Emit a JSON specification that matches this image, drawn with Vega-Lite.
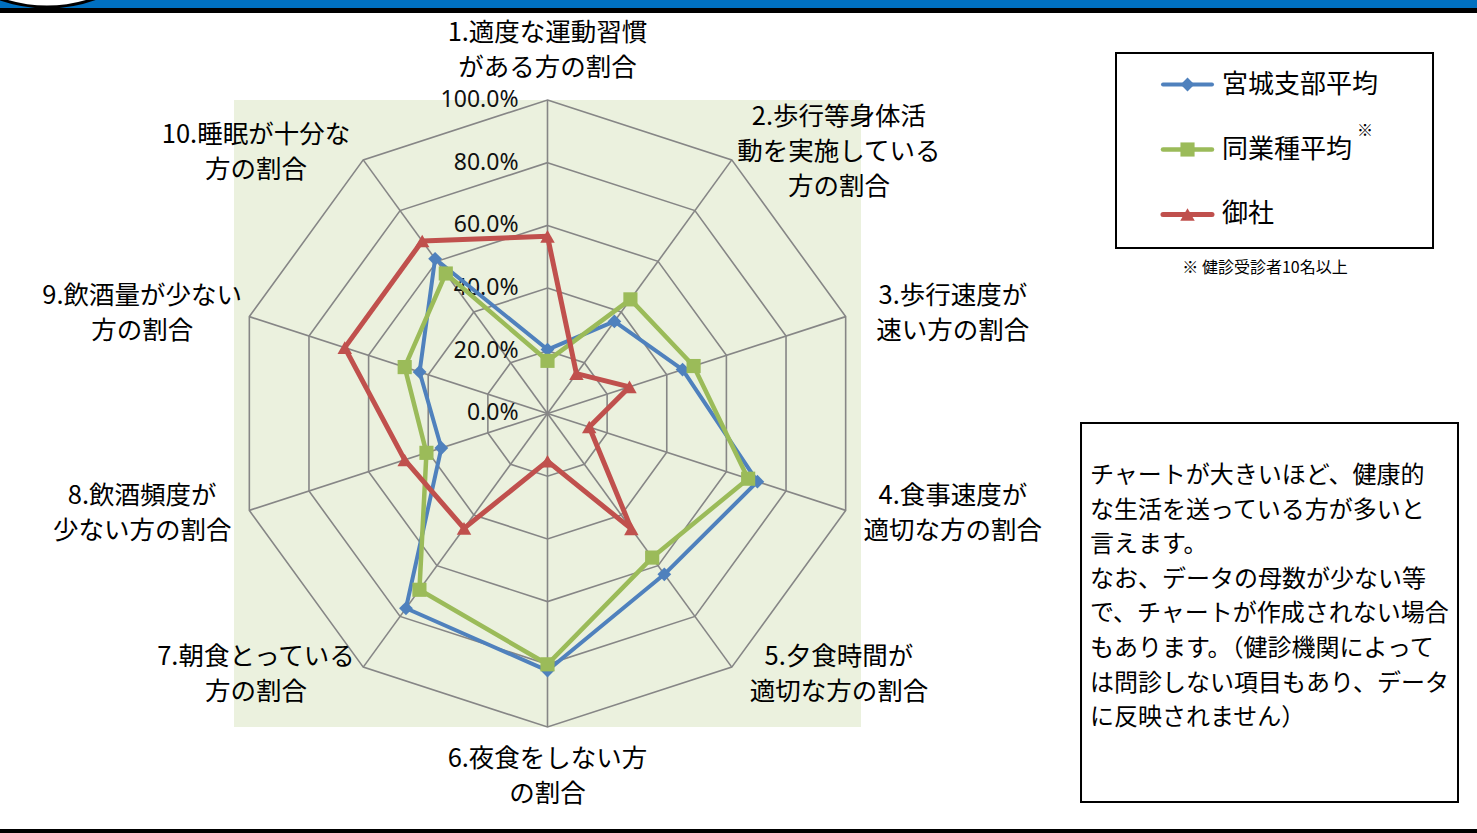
{
  "$schema": "https://vega.github.io/schema/vega-lite/v6.json",
  "width": 1477,
  "height": 833,
  "autosize": {"type": "none"},
  "padding": 0,
  "background": "white",
  "config": {"view": {"stroke": null}, "font": "Noto Sans CJK JP"},
  "datasets": {
    "vals": [
      {"axis": 1, "series": "宮城支部平均", "value": 20.4},
      {"axis": 2, "series": "宮城支部平均", "value": 36.3},
      {"axis": 3, "series": "宮城支部平均", "value": 45.3},
      {"axis": 4, "series": "宮城支部平均", "value": 70.4},
      {"axis": 5, "series": "宮城支部平均", "value": 63.4},
      {"axis": 6, "series": "宮城支部平均", "value": 82.0},
      {"axis": 7, "series": "宮城支部平均", "value": 76.8},
      {"axis": 8, "series": "宮城支部平均", "value": 35.6},
      {"axis": 9, "series": "宮城支部平均", "value": 42.9},
      {"axis": 10, "series": "宮城支部平均", "value": 61.0},
      {"axis": 1, "series": "同業種平均", "value": 16.8},
      {"axis": 2, "series": "同業種平均", "value": 45.0},
      {"axis": 3, "series": "同業種平均", "value": 49.0},
      {"axis": 4, "series": "同業種平均", "value": 67.3},
      {"axis": 5, "series": "同業種平均", "value": 56.8},
      {"axis": 6, "series": "同業種平均", "value": 80.0},
      {"axis": 7, "series": "同業種平均", "value": 69.5},
      {"axis": 8, "series": "同業種平均", "value": 40.6},
      {"axis": 9, "series": "同業種平均", "value": 47.9},
      {"axis": 10, "series": "同業種平均", "value": 55.2},
      {"axis": 1, "series": "御社", "value": 56.5},
      {"axis": 2, "series": "御社", "value": 15.7},
      {"axis": 3, "series": "御社", "value": 27.5},
      {"axis": 4, "series": "御社", "value": 14.0},
      {"axis": 5, "series": "御社", "value": 45.5},
      {"axis": 6, "series": "御社", "value": 15.2},
      {"axis": 7, "series": "御社", "value": 45.3},
      {"axis": 8, "series": "御社", "value": 47.9},
      {"axis": 9, "series": "御社", "value": 68.0},
      {"axis": 10, "series": "御社", "value": 68.0}
    ],
    "cats": [
      {"axis": 1, "label": "1.適度な運動習慣\nがある方の割合"},
      {"axis": 2, "label": "2.歩行等身体活\n動を実施している\n方の割合"},
      {"axis": 3, "label": "3.歩行速度が\n速い方の割合"},
      {"axis": 4, "label": "4.食事速度が\n適切な方の割合"},
      {"axis": 5, "label": "5.夕食時間が\n適切な方の割合"},
      {"axis": 6, "label": "6.夜食をしない方\nの割合"},
      {"axis": 7, "label": "7.朝食とっている\n方の割合"},
      {"axis": 8, "label": "8.飲酒頻度が\n少ない方の割合"},
      {"axis": 9, "label": "9.飲酒量が少ない\n方の割合"},
      {"axis": 10, "label": "10.睡眠が十分な\n方の割合"}
    ],
    "rings": [
      {"level": 0.2, "k": [0, 1, 2, 3, 4, 5, 6, 7, 8, 9]},
      {"level": 0.4, "k": [0, 1, 2, 3, 4, 5, 6, 7, 8, 9]},
      {"level": 0.6, "k": [0, 1, 2, 3, 4, 5, 6, 7, 8, 9]},
      {"level": 0.8, "k": [0, 1, 2, 3, 4, 5, 6, 7, 8, 9]},
      {"level": 1.0, "k": [0, 1, 2, 3, 4, 5, 6, 7, 8, 9]}
    ],
    "ticks": [
      {"level": 0.0}, {"level": 0.2}, {"level": 0.4}, {"level": 0.6}, {"level": 0.8}, {"level": 1.0}
    ],
    "series": [
      {"series": "宮城支部平均", "idx": 0},
      {"series": "同業種平均", "idx": 1},
      {"series": "御社", "idx": 2}
    ]
  },
  "layer": [
    {
      "data": {"values": [{}]},
      "mark": {"type": "rect", "color": "#0070C0"},
      "encoding": {
        "x": {"datum": -1.74641, "type": "quantitative", "scale": {"domain": [-1.74641, 2.96491], "nice": false, "zero": false}, "axis": null},
        "x2": {"datum": 2.96491},
        "y": {"datum": 1.31898, "type": "quantitative", "scale": {"domain": [-1.33812, 1.31898], "nice": false, "zero": false}, "axis": null},
        "y2": {"datum": 1.2935}
      }
    },
    {
      "data": {"values": [{}]},
      "mark": {"type": "point", "shape": "circle", "filled": true, "fill": "white", "stroke": "black", "strokeWidth": 3, "opacity": 1, "size": 80656},
      "encoding": {
        "x": {"datum": -1.5965, "type": "quantitative"},
        "y": {"datum": 1.7496, "type": "quantitative"}
      }
    },
    {
      "data": {"values": [{}]},
      "mark": {"type": "rect", "color": "black"},
      "encoding": {
        "x": {"datum": -1.74641, "type": "quantitative"},
        "x2": {"datum": 2.96491},
        "y": {"datum": 1.2935, "type": "quantitative"},
        "y2": {"datum": 1.2775}
      }
    },
    {
      "data": {"values": [{}]},
      "mark": {"type": "rect", "color": "black"},
      "encoding": {
        "x": {"datum": -1.74641, "type": "quantitative"},
        "x2": {"datum": 2.96491},
        "y": {"datum": -1.3254, "type": "quantitative"},
        "y2": {"datum": -1.33812}
      }
    },
    {
      "data": {"values": [{}]},
      "mark": {"type": "rect", "color": "#EBF1DE"},
      "encoding": {
        "x": {"datum": -1.0, "type": "quantitative"},
        "x2": {"datum": 1.0},
        "y": {"datum": 1.0, "type": "quantitative"},
        "y2": {"datum": -1.0}
      }
    },
    {
      "data": {"name": "rings"},
      "transform": [
        {"flatten": ["k"]},
        {"calculate": "datum.level * sin(datum.k * PI / 5)", "as": "gx"},
        {"calculate": "datum.level * cos(datum.k * PI / 5)", "as": "gy"}
      ],
      "mark": {"type": "line", "interpolate": "linear-closed", "stroke": "#868686", "strokeWidth": 1.6},
      "encoding": {
        "x": {"field": "gx", "type": "quantitative"},
        "y": {"field": "gy", "type": "quantitative"},
        "detail": {"field": "level", "type": "nominal"},
        "order": {"field": "k", "type": "quantitative"}
      }
    },
    {
      "data": {"name": "cats"},
      "transform": [
        {"calculate": "sin((datum.axis - 1) * PI / 5)", "as": "sx"},
        {"calculate": "cos((datum.axis - 1) * PI / 5)", "as": "sy"}
      ],
      "mark": {"type": "rule", "stroke": "#868686", "strokeWidth": 1.6},
      "encoding": {
        "x": {"field": "sx", "type": "quantitative"},
        "y": {"field": "sy", "type": "quantitative"},
        "x2": {"datum": 0},
        "y2": {"datum": 0}
      }
    },
    {
      "data": {"name": "ticks"},
      "mark": {"type": "text", "align": "right", "baseline": "middle", "dx": -29, "fontSize": 23, "font": "Noto Sans", "color": "#111111"},
      "encoding": {
        "x": {"datum": 0, "type": "quantitative"},
        "y": {"field": "level", "type": "quantitative"},
        "text": {"field": "level", "type": "quantitative", "format": ".1%"}
      }
    },
    {
      "data": {"name": "vals"},
      "transform": [
        {"calculate": "datum.value / 100 * sin((datum.axis - 1) * PI / 5)", "as": "px"},
        {"calculate": "datum.value / 100 * cos((datum.axis - 1) * PI / 5)", "as": "py"}
      ],
      "mark": {"type": "line", "interpolate": "linear-closed", "strokeJoin": "round"},
      "encoding": {
        "x": {"field": "px", "type": "quantitative"},
        "y": {"field": "py", "type": "quantitative"},
        "order": {"field": "axis", "type": "quantitative"},
        "color": {"field": "series", "type": "nominal", "scale": {"domain": ["宮城支部平均", "同業種平均", "御社"], "range": ["#4F81BD", "#9BBB59", "#C0504D"]}, "legend": null},
        "strokeWidth": {"field": "series", "type": "ordinal", "scale": {"domain": ["宮城支部平均", "同業種平均", "御社"], "range": [4, 5, 7]}, "legend": null}
      }
    },
    {
      "data": {"name": "vals"},
      "transform": [
        {"calculate": "datum.value / 100 * sin((datum.axis - 1) * PI / 5)", "as": "px"},
        {"calculate": "datum.value / 100 * cos((datum.axis - 1) * PI / 5)", "as": "py"}
      ],
      "mark": {"type": "point", "filled": true, "opacity": 1},
      "encoding": {
        "x": {"field": "px", "type": "quantitative"},
        "y": {"field": "py", "type": "quantitative"},
        "color": {"field": "series", "type": "nominal", "legend": null},
        "shape": {"field": "series", "type": "nominal", "scale": {"domain": ["宮城支部平均", "同業種平均", "御社"], "range": ["diamond", "square", "triangle-up"]}, "legend": null},
        "size": {"field": "series", "type": "ordinal", "scale": {"domain": ["宮城支部平均", "同業種平均", "御社"], "range": [190, 210, 320]}, "legend": null}
      }
    },
    {
      "data": {"name": "cats"},
      "transform": [
        {"calculate": "sin((datum.axis - 1) * PI / 5)", "as": "s"},
        {"calculate": "cos((datum.axis - 1) * PI / 5)", "as": "c"},
        {"calculate": "length(split(datum.label, '\\n'))", "as": "n"},
        {"calculate": "abs(datum.s) < 0.01 ? 0 : datum.s + (datum.s > 0 ? 0.342 : -0.342)", "as": "lx"},
        {"calculate": "(abs(datum.s) < 0.01 ? datum.c * 1.158 : datum.c * 1.03) + (datum.n - 1) * 17.5 / 313.5", "as": "ly"}
      ],
      "mark": {"type": "text", "align": "center", "baseline": "middle", "fontSize": 25.5, "lineHeight": 35, "lineBreak": "\n", "color": "black"},
      "encoding": {
        "x": {"field": "lx", "type": "quantitative"},
        "y": {"field": "ly", "type": "quantitative"},
        "text": {"field": "label", "type": "nominal"}
      }
    },
    {
      "data": {"values": [{}]},
      "mark": {"type": "rect", "fill": "white", "stroke": "black", "strokeWidth": 2},
      "encoding": {
        "x": {"datum": 1.8134, "type": "quantitative"},
        "x2": {"datum": 2.8246},
        "y": {"datum": 1.1499, "type": "quantitative"},
        "y2": {"datum": 0.5279}
      }
    },
    {
      "data": {"name": "series"},
      "transform": [{"calculate": "1.0494 - datum.idx * 0.2073", "as": "ly"}],
      "mark": {"type": "rule", "strokeCap": "round"},
      "encoding": {
        "x": {"datum": 1.9633, "type": "quantitative"},
        "x2": {"datum": 2.1196},
        "y": {"field": "ly", "type": "quantitative"},
        "color": {"field": "series", "type": "nominal", "legend": null},
        "strokeWidth": {"field": "series", "type": "ordinal", "legend": null}
      }
    },
    {
      "data": {"name": "series"},
      "transform": [{"calculate": "1.0494 - datum.idx * 0.2073", "as": "ly"}],
      "mark": {"type": "point", "filled": true, "opacity": 1},
      "encoding": {
        "x": {"datum": 2.0415, "type": "quantitative"},
        "y": {"field": "ly", "type": "quantitative"},
        "color": {"field": "series", "type": "nominal", "legend": null},
        "shape": {"field": "series", "type": "nominal", "legend": null},
        "size": {"field": "series", "type": "ordinal", "legend": null}
      }
    },
    {
      "data": {"name": "series"},
      "transform": [{"calculate": "1.0494 - datum.idx * 0.2073", "as": "ly"}],
      "mark": {"type": "text", "align": "left", "baseline": "middle", "fontSize": 26, "letterSpacing": 3, "color": "black"},
      "encoding": {
        "x": {"datum": 2.1515, "type": "quantitative"},
        "y": {"field": "ly", "type": "quantitative"},
        "text": {"field": "series", "type": "nominal"}
      }
    },
    {
      "data": {"values": [{"t": "※"}]},
      "mark": {"type": "text", "align": "center", "baseline": "middle", "fontSize": 16, "color": "black"},
      "encoding": {
        "x": {"datum": 2.6077, "type": "quantitative"},
        "y": {"datum": 0.9011, "type": "quantitative"},
        "text": {"field": "t", "type": "nominal"}
      }
    },
    {
      "data": {"values": [{"t": "※ 健診受診者10名以上"}]},
      "mark": {"type": "text", "align": "center", "baseline": "middle", "fontSize": 16, "color": "black"},
      "encoding": {
        "x": {"datum": 2.2887, "type": "quantitative"},
        "y": {"datum": 0.4641, "type": "quantitative"},
        "text": {"field": "t", "type": "nominal"}
      }
    },
    {
      "data": {"values": [{}]},
      "mark": {"type": "rect", "fill": "white", "stroke": "black", "strokeWidth": 2},
      "encoding": {
        "x": {"datum": 1.7018, "type": "quantitative"},
        "x2": {"datum": 2.9043},
        "y": {"datum": -0.0303, "type": "quantitative"},
        "y2": {"datum": -1.2392}
      }
    },
    {
      "data": {"values": [{"t": "チャートが大きいほど、健康的\nな生活を送っている方が多いと\n言えます。\nなお、データの母数が少ない等\nで、チャートが作成されない場合\nもあります。（健診機関によって\nは問診しない項目もあり、データ\nに反映されません）"}]},
      "mark": {"type": "text", "align": "left", "baseline": "top", "fontSize": 24, "lineHeight": 34.6, "lineBreak": "\n", "color": "black"},
      "encoding": {
        "x": {"datum": 1.7305, "type": "quantitative"},
        "y": {"datum": -0.1611, "type": "quantitative"},
        "text": {"field": "t", "type": "nominal"}
      }
    }
  ]
}
